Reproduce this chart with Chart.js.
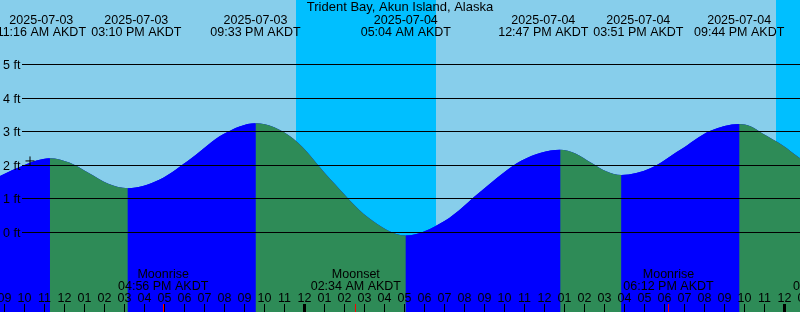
<!DOCTYPE html>
<html>
<head>
<meta charset="utf-8">
<script src="https://cdn.jsdelivr.net/npm/chart.js@4.4.0/dist/chart.umd.min.js"></script>
<style>
  html, body { margin: 0; padding: 0; background: #87ceeb; }
  canvas { display: block; }
</style>
</head>
<body>
<canvas id="grafico" width="800" height="312"></canvas>
<script>
// horas contadas a partir de 2025-07-03 00:00 AKDT
const titulo = 'Trident Bay, Akun Island, Alaska';

const horas = [8.775, 9.4, 10.0, 10.6, 11.267,
    12.242, 13.217, 14.192, 15.167,
    16.763, 18.358, 19.954, 21.55,
    23.429, 25.308, 27.188, 29.067,
    30.996, 32.925, 34.854, 36.783,
    37.55, 38.316, 39.083, 39.85,
    41.321, 42.79, 44.262, 45.733,
    46.3, 46.9, 47.9, 48.775];
const alturas = [1.68, 1.86, 2.01, 2.14, 2.21,
    2.08, 1.77, 1.45, 1.32,
    1.58, 2.22, 2.93, 3.25,
    2.80, 1.58, 0.45, -0.09,
    0.34, 1.28, 2.14, 2.46,
    2.35, 2.08, 1.82, 1.71,
    1.92, 2.46, 3.02, 3.23,
    3.16, 2.95, 2.60, 2.21];

const mareHoras = [11.267, 15.167, 21.55, 29.067, 36.783, 39.85, 45.733];
const mareDatas = ['2025-07-03', '2025-07-03', '2025-07-03', '2025-07-04', '2025-07-04', '2025-07-04', '2025-07-04'];
const mareTextos = ['11:16 AM AKDT', '03:10 PM AKDT', '09:33 PM AKDT', '05:04 AM AKDT', '12:47 PM AKDT', '03:51 PM AKDT', '09:44 PM AKDT'];

const luaHoras = [16.933, 26.567, 42.2, 50.683];
const luaNomes = ['Moonrise', 'Moonset', 'Moonrise', 'Moonset'];
const luaTextos = ['04:56 PM AKDT', '02:34 AM AKDT', '06:12 PM AKDT', '02:41 AM AKDT'];

const noiteInicio = [23.575, 47.575];
const noiteFim = [30.575, 56];

const pesLinhas = [0, 1, 2, 3, 4, 5];

const agoraHora = [10.275];
const agoraAltura = [2.13];

const corSubindo = '#0000ff';
const corDescendo = '#2e8b57';
const corNoite = '#00bfff';
const fonte = '12.5px "Liberation Sans"';

const pontosMare = horas.map((h, i) => ({ x: h, y: alturas[i] }));

const desenho = {
    id: 'desenho',
    beforeDatasetsDraw(chart) {
        const { ctx, chartArea: a, scales: { x } } = chart;
        ctx.save();
        ctx.fillStyle = corNoite;
        for (let i = 0; i < noiteInicio.length; i++) {
            const x0 = Math.round(x.getPixelForValue(noiteInicio[i]));
            const x1 = Math.round(x.getPixelForValue(noiteFim[i]));
            ctx.fillRect(x0, a.top, x1 - x0, a.bottom - a.top);
        }
        ctx.restore();
    },
    afterDatasetsDraw(chart) {
        const { ctx, scales: { x, y } } = chart;
        ctx.save();
        ctx.fillStyle = '#000';
        ctx.font = fonte;

        // linhas de pés
        ctx.textAlign = 'left';
        pesLinhas.forEach(p => {
            const py = Math.floor(y.getPixelForValue(p));
            ctx.fillRect(22, py, 778, 1);
            ctx.fillText(p + ' ft', 3, py + 5);
        });

        // título e horários das marés
        ctx.textAlign = 'center';
        ctx.font = '13px "Liberation Sans"';
        ctx.fillText(titulo, 400, 11);
        ctx.font = fonte;
        const pos = mareHoras.map(h => x.getPixelForValue(h));
        const afastamento = 95;
        for (let i = 0; i < pos.length - 1; i++) {
            const falta = afastamento - (pos[i + 1] - pos[i]);
            if (falta > 0) {
                pos[i] -= falta / 2;
                pos[i + 1] += falta / 2;
            }
        }
        pos.forEach((px, i) => {
            ctx.fillText(mareDatas[i], px, 24);
            ctx.fillText(mareTextos[i], px, 36);
        });

        // lua
        luaHoras.forEach((h, i) => {
            const px = x.getPixelForValue(h);
            ctx.fillStyle = '#000';
            ctx.fillText(luaNomes[i], px, 278);
            ctx.fillText(luaTextos[i], px, 290);
            ctx.fillStyle = '#ff0000';
            ctx.fillRect(Math.floor(px), 304, 1, 8);
        });

        // horas
        ctx.fillStyle = '#000';
        for (let h = Math.ceil(x.min); h <= Math.floor(x.max) + 1; h++) {
            const px = x.getPixelForValue(h);
            const hr = h % 12 === 0 ? 12 : h % 12;
            ctx.fillText(String(hr).padStart(2, '0'), px, 302);
            if (h % 24 === 0) {
                ctx.fillRect(Math.floor(px) - 1, 304, 3, 8);
            } else {
                ctx.fillRect(Math.floor(px), 304, 1, 8);
            }
        }
        ctx.restore();
    }
};

new Chart(document.getElementById('grafico'), {
    type: 'line',
    data: {
        datasets: [
            {
                label: 'Maré',
                data: pontosMare,
                fill: 'start',
                borderWidth: 0,
                pointRadius: 0,
                backgroundColor: corSubindo,
                cubicInterpolationMode: 'monotone',
                segment: {
                    backgroundColor: c => c.p1.parsed.y >= c.p0.parsed.y ? corSubindo : corDescendo
                },
                order: 2
            },
            {
                // camada de baixo, evita frestas entre os trechos
                label: 'Fundo',
                data: pontosMare,
                fill: 'start',
                borderWidth: 0,
                pointRadius: 0,
                backgroundColor: corSubindo,
                cubicInterpolationMode: 'monotone',
                order: 3
            },
            {
                label: 'Agora',
                data: agoraHora.map((h, i) => ({ x: h, y: agoraAltura[i] })),
                showLine: false,
                pointStyle: 'cross',
                pointRadius: 4.5,
                borderColor: '#000',
                borderWidth: 1,
                order: 1
            }
        ]
    },
    options: {
        responsive: false,
        animation: false,
        devicePixelRatio: 1,
        layout: { padding: 0, autoPadding: false },
        scales: {
            x: { type: 'linear', min: 8.775, max: 48.775, display: false },
            y: { min: -2.366, max: 6.92, display: false }
        },
        plugins: {
            legend: { display: false },
            tooltip: { enabled: false }
        }
    },
    plugins: [desenho]
});
</script>
</body>
</html>
